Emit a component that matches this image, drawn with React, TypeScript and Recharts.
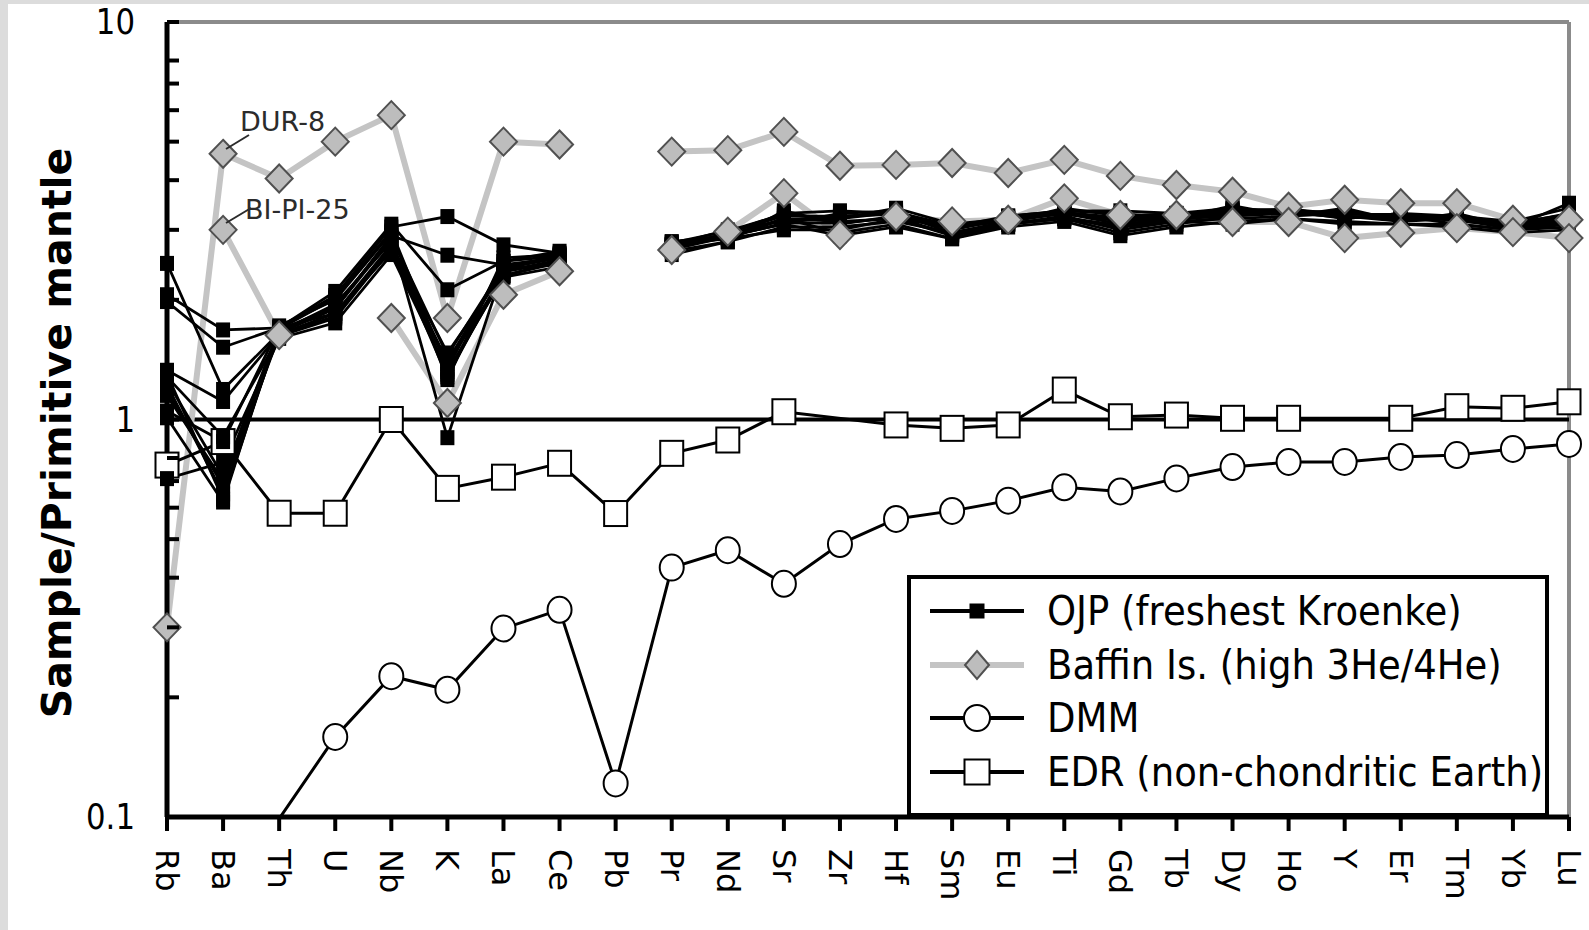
import React from "react"
import { LineChart, Line, XAxis, YAxis, ReferenceLine, Legend } from "recharts"

const elements = ["Rb", "Ba", "Th", "U", "Nb", "K", "La", "Ce", "Pb", "Pr", "Nd", "Sr", "Zr", "Hf", "Sm", "Eu", "Ti", "Gd", "Tb", "Dy", "Ho", "Y", "Er", "Tm", "Yb", "Lu"]

// OJP, freshest Kroenke samples (Pb not analysed)
const ojp1 = [2.06, 1.68, 1.7, 2.05, 3.05, 3.24, 2.75, 2.62, null, 2.75, 2.9, 3.1, 3.3, 3.35, 3.0, 3.2, 3.3, 3.1, 3.2, 3.3, 3.35, 3.3, 3.25, 3.2, 3.05, 3.5]
const ojp2 = [2.47, 1.19, 1.65, 1.9, 2.9, 2.59, 2.45, 2.55, null, 2.7, 2.95, 3.3, 3.35, 3.3, 2.95, 3.15, 3.4, 3.25, 3.3, 3.4, 3.3, 3.35, 3.2, 3.25, 3.0, 3.25]
const ojp3 = [1.98, 1.52, 1.7, 2.1, 3.1, 2.12, 2.5, 2.65, null, 2.8, 2.85, 3.0, 3.0, 3.2, 2.9, 3.1, 3.2, 2.95, 3.1, 3.25, 3.4, 3.2, 3.3, 3.15, 3.1, 3.3]
const ojp4 = [1.33, 1.11, 1.64, 1.85, 2.75, 1.47, 2.35, 2.5, null, 2.65, 2.8, 3.35, 3.1, 3.25, 3.05, 3.25, 3.35, 3.3, 3.2, 3.45, 3.25, 3.4, 3.15, 3.3, 3.05, 3.15]
const ojp5 = [1.28, 0.905, 1.62, 1.8, 2.7, 1.4, 2.4, 2.45, null, 2.7, 2.9, 3.2, 2.95, 3.1, 2.85, 3.05, 3.15, 2.9, 3.05, 3.15, 3.2, 3.1, 3.1, 3.05, 2.95, 3.0]
const ojp6 = [1.22, 0.65, 1.66, 1.95, 2.8, 1.3, 2.3, 2.5, null, 2.75, 3.0, 3.15, 3.2, 3.4, 3.1, 3.2, 3.3, 3.2, 3.25, 3.3, 3.3, 3.25, 3.2, 3.2, 3.1, 3.2]
const ojp7 = [1.01, 0.62, 1.72, 2.0, 2.95, 1.26, 2.55, 2.6, null, 2.6, 2.8, 3.05, 3.05, 3.15, 2.95, 3.1, 3.25, 3.0, 3.15, 3.2, 3.25, 3.3, 3.25, 3.1, 3.0, 3.1]
const ojp8 = [0.71, 0.78, 1.6, 1.75, 2.6, 1.32, 2.28, 2.42, null, 2.7, 2.95, 3.25, 3.25, 3.3, 3.0, 3.25, 3.35, 3.35, 3.3, 3.35, 3.35, 3.2, 3.3, 3.25, 3.15, 3.4]
const ojp9 = [1.15, 0.7, 1.67, 1.9, 2.85, 0.9, 2.4, 2.55, null, 2.8, 2.9, 3.1, 2.9, 3.05, 2.85, 3.1, 3.2, 3.05, 3.15, 3.1, 3.2, 3.15, 3.1, 3.1, 3.0, 3.05]
const ojp10 = [1.05, 0.88, 1.7, 1.85, 2.65, 1.38, 2.3, 2.48, null, 2.75, 2.85, 3.2, 3.15, 3.2, 3.05, 3.15, 3.3, 3.15, 3.2, 3.25, 3.3, 3.25, 3.15, 3.2, 3.05, 3.2]
const ojp11 = [1.3, 0.63, 1.68, 1.92, 2.88, 1.45, 2.42, 2.58, null, 2.72, 2.92, 3.18, 3.25, 3.28, 3.02, 3.22, 3.28, 3.18, 3.22, 3.35, 3.38, 3.28, 3.28, 3.22, 3.08, 3.25]
const ojp12 = [1.18, 0.68, 1.63, 1.82, 2.72, 1.28, 2.36, 2.52, null, 2.68, 2.88, 3.12, 3.12, 3.22, 2.92, 3.12, 3.22, 3.08, 3.18, 3.28, 3.32, 3.22, 3.22, 3.18, 3.02, 3.12]
const ojp13 = [1.25, 0.72, 1.69, 2.02, 2.98, 1.34, 2.5, 2.58, null, 2.78, 2.98, 3.28, 3.2, 3.32, 3.08, 3.18, 3.32, 3.22, 3.28, 3.38, 3.36, 3.3, 3.25, 3.24, 3.12, 3.28]
const ojpSamples = [ojp1, ojp2, ojp3, ojp4, ojp5, ojp6, ojp7, ojp8, ojp9, ojp10, ojp11, ojp12, ojp13]

// Baffin Island, high 3He/4He
const dur8 = [0.3, 4.66, 4.04, 5.0, 5.83, 1.8, 5.0, 4.92, null, 4.72, 4.76, 5.29, 4.35, 4.37, 4.42, 4.17, 4.5, 4.1, 3.89, 3.74, 3.43, 3.57, 3.5, 3.5, 3.18, 3.18]
const biPi25 = [null, 3.0, 1.63, null, 1.8, 1.1, 2.06, 2.36, null, 2.67, 2.97, 3.71, 2.91, 3.24, 3.15, 3.18, 3.6, 3.27, 3.27, 3.14, 3.14, 2.86, 2.95, 3.03, 2.96, 2.86]

const dmm = [0.08, 0.085, 0.099, 0.159, 0.226, 0.209, 0.298, 0.332, 0.1215, 0.424, 0.469, 0.386, 0.486, 0.562, 0.589, 0.625, 0.675, 0.659, 0.711, 0.759, 0.782, 0.782, 0.805, 0.814, 0.843, 0.868]
const edr = [0.768, 0.88, 0.581, 0.581, 1.0, 0.671, 0.716, 0.776, 0.58, 0.822, 0.888, 1.046, null, 0.969, 0.95, 0.969, 1.186, 1.016, 1.026, 1.007, 1.007, null, 1.007, 1.077, 1.067, 1.108]

const yTicks = [0.1, 0.2, 0.3, 0.4, 0.5, 0.6, 0.7, 0.8, 0.9, 1, 2, 3, 4, 5, 6, 7, 8, 9, 10]
const yLabels: Record<number, string> = { 0.1: "0.1", 1: "1", 10: "10" }

const legendItems = [
  { name: "OJP (freshest Kroenke)", kind: "ojp" },
  { name: "Baffin Is. (high 3He/4He)", kind: "baffin" },
  { name: "DMM", kind: "dmm" },
  { name: "EDR (non-chondritic Earth)", kind: "edr" },
]

const rows = elements.map((el, i) => {
  const row: Record<string, string | number | null> = { el }
  ojpSamples.forEach((s, k) => {
    row[`ojp${k + 1}`] = s[i]
  })
  row.dur8 = dur8[i]
  row.biPi25 = biPi25[i]
  row.dmm = dmm[i]
  row.edr = edr[i]
  return row
})

const font = '"DejaVu Sans", Verdana, sans-serif'
const AXIS_X = 167

function ElementTick(props: any) {
  const { x, y, payload } = props
  return (
    <text
      transform={`translate(${x},${y}) rotate(90)`}
      textAnchor="start"
      dominantBaseline="central"
      fontFamily={font}
      fontSize={32}
      fill="#000"
    >
      {payload.value}
    </text>
  )
}

function LogTick(props: any) {
  const { y, payload } = props
  const label = yLabels[payload.value]
  return (
    <g>
      <line x1={AXIS_X} x2={AXIS_X + 12} y1={y} y2={y} stroke="#000" strokeWidth={4} />
      {label && (
        <text
          transform={`translate(${AXIS_X - 32},${y}) scale(0.88,1)`}
          textAnchor="end"
          dominantBaseline="central"
          fontFamily={font}
          fontSize={35}
          fill="#000"
        >
          {label}
        </text>
      )}
    </g>
  )
}

const empty = (key: any) => <g key={key} />

function ojpDot(props: any) {
  const { cx, cy, value, index } = props
  if (cx == null || cy == null || value == null) return empty(index)
  return <rect key={index} x={cx - 7} y={cy - 7.5} width={14} height={15} fill="#000" />
}

function diamondPath(cx: number, cy: number, w: number, h: number) {
  return `M${cx},${cy - h} L${cx + w},${cy} L${cx},${cy + h} L${cx - w},${cy} Z`
}

function baffinDot(props: any) {
  const { cx, cy, value, index } = props
  if (cx == null || cy == null || value == null) return empty(index)
  return <path key={index} d={diamondPath(cx, cy, 13.5, 14)} fill="#bdbdbd" stroke="#505050" strokeWidth={2} />
}

function dmmDot(props: any) {
  const { cx, cy, value, index } = props
  if (cx == null || cy == null || value == null || value < 0.1) return empty(index)
  return <ellipse key={index} cx={cx} cy={cy} rx={12} ry={13} fill="#fff" stroke="#000" strokeWidth={2} />
}

function edrDot(props: any) {
  const { cx, cy, value, index } = props
  if (cx == null || cy == null || value == null) return empty(index)
  return <rect key={index} x={cx - 11.5} y={cy - 12.5} width={23} height={25} fill="#fff" stroke="#000" strokeWidth={2} />
}

function LegendSymbol({ kind }: { kind: string }) {
  const gray = kind === "baffin"
  return (
    <svg width={94} height={50} style={{ display: "block", flex: "none" }}>
      <line x1={0} x2={94} y1={25} y2={25} stroke={gray ? "#c4c4c4" : "#000"} strokeWidth={gray ? 6 : 4} />
      {kind === "ojp" && <rect x={39.5} y={17.5} width={15} height={15} fill="#000" />}
      {kind === "baffin" && <path d={diamondPath(47, 25, 12, 14)} fill="#bdbdbd" stroke="#505050" strokeWidth={2} />}
      {kind === "dmm" && <ellipse cx={47} cy={25} rx={13} ry={13} fill="#fff" stroke="#000" strokeWidth={2} />}
      {kind === "edr" && <rect x={34.5} y={12.5} width={25} height={25} fill="#fff" stroke="#000" strokeWidth={2} />}
    </svg>
  )
}

function LegendBox() {
  return (
    <div
      style={{
        position: "relative",
        width: 642,
        height: 242,
        boxSizing: "border-box",
        border: "4px solid #000",
        background: "#fff",
        fontFamily: font,
        fontSize: 40,
        color: "#000",
      }}
    >
      {legendItems.map((item, i) => (
        <div
          key={item.name}
          style={{ position: "absolute", left: 19, top: 32 + i * 53.7 - 25, height: 50, display: "flex", alignItems: "center" }}
        >
          <LegendSymbol kind={item.kind} />
          <span
            style={{
              marginLeft: 23,
              whiteSpace: "nowrap",
              lineHeight: 1,
              display: "inline-block",
              transform: "scaleX(0.925)",
              transformOrigin: "left center",
            }}
          >
            {item.name}
          </span>
        </div>
      ))}
    </div>
  )
}

export default function App() {
  return (
    <div style={{ position: "absolute", left: 0, top: 0, width: 1589, height: 930, background: "#dcdcdc", overflow: "hidden" }}>
      <div style={{ position: "absolute", left: 8, top: 4, right: 0, bottom: 0, background: "#fff" }} />
      <div style={{ position: "absolute", left: 0, top: 0 }}>
        <LineChart width={1589} height={930} data={rows} margin={{ top: 22, right: 20, bottom: 33, left: 67 }}>
          <XAxis
            dataKey="el"
            interval={0}
            padding={{ left: 0, right: 0 }}
            height={80}
            tickSize={14}
            tickMargin={18}
            axisLine={{ stroke: "#000", strokeWidth: 5 }}
            tickLine={{ stroke: "#000", strokeWidth: 4 }}
            tick={<ElementTick />}
          />
          <YAxis
            type="number"
            scale="log"
            domain={[0.1, 10]}
            allowDataOverflow
            ticks={yTicks}
            width={100}
            tickSize={0}
            tickMargin={0}
            axisLine={{ stroke: "#000", strokeWidth: 5 }}
            tickLine={false}
            tick={<LogTick />}
          />
          <ReferenceLine y={10} stroke="#8b8b8b" strokeWidth={4} />
          <ReferenceLine x="Lu" stroke="#8b8b8b" strokeWidth={4} />
          <ReferenceLine y={1} stroke="#000" strokeWidth={4} />

          <Line dataKey="dur8" stroke="#c4c4c4" strokeWidth={6} dot={false} isAnimationActive={false} legendType="none" />
          <Line dataKey="biPi25" stroke="#c4c4c4" strokeWidth={6} dot={false} isAnimationActive={false} legendType="none" />

          <Line dataKey="dmm" stroke="#000" strokeWidth={3} dot={dmmDot} isAnimationActive={false} />
          <Line dataKey="edr" stroke="#000" strokeWidth={3} dot={edrDot} connectNulls isAnimationActive={false} />

          {ojpSamples.map((_, k) => (
            <Line
              key={`ojp${k + 1}`}
              dataKey={`ojp${k + 1}`}
              stroke="#000"
              strokeWidth={2.8}
              dot={ojpDot}
              isAnimationActive={false}
              legendType="none"
            />
          ))}

          <Line dataKey="dur8" stroke="none" dot={baffinDot} isAnimationActive={false} legendType="none" />
          <Line dataKey="biPi25" stroke="none" dot={baffinDot} isAnimationActive={false} legendType="none" />

          <Legend
            layout="vertical"
            align="center"
            verticalAlign="middle"
            width={642}
            height={242}
            wrapperStyle={{ left: 907, top: 575, width: 642, height: 242 }}
            content={() => <LegendBox />}
          />
        </LineChart>
      </div>
      <svg width={1589} height={930} style={{ position: "absolute", left: 0, top: 0, pointerEvents: "none" }}>
        <text
          transform="translate(71,433) rotate(-90)"
          textAnchor="middle"
          fontFamily={font}
          fontWeight="bold"
          fontSize={41}
          fill="#000"
        >
          Sample/Primitive mantle
        </text>
        <line x1={249} y1={135} x2={226} y2={149} stroke="#2b2b2b" strokeWidth={2} />
        <text x={240} y={131} fontFamily={font} fontSize={27} fill="#2b2b2b">
          DUR-8
        </text>
        <line x1={251} y1={208} x2={226} y2={223} stroke="#2b2b2b" strokeWidth={2} />
        <text x={245} y={219} fontFamily={font} fontSize={27} fill="#2b2b2b">
          BI-PI-25
        </text>
      </svg>
    </div>
  )
}
